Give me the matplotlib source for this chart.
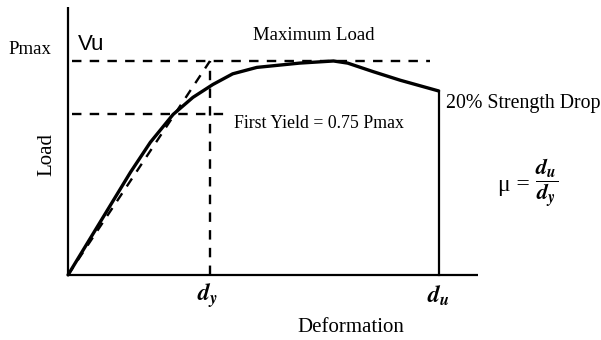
import matplotlib
matplotlib.use("Agg")
import matplotlib.pyplot as plt

# load-deformation curve, deformation in units of dy, load in units of Pmax
deform = [0, 0.44, 0.58, 0.74, 0.88, 1.02, 1.16, 1.33, 1.63, 1.87, 1.97, 2.15, 2.34, 2.61]
load = [0, 0.48, 0.62, 0.75, 0.83, 0.89, 0.94, 0.97, 0.99, 1.0, 0.99, 0.95, 0.91, 0.86]

p_max = 1.0
p_yield = 0.75
d_y = 1.0
d_u = deform[-1]

plt.rcParams['mathtext.fontset'] = 'stix'
serif = 'Liberation Serif'

fig = plt.figure(figsize=(6.01, 3.40), dpi=100)
ax = fig.add_axes([0, 0, 1, 1])
ax.set_xlim(-0.479, 3.754)
ax.set_ylim(-0.304, 1.285)
ax.axis('off')

# axes drawn by hand
ax.plot([0, 0], [0, 1.25], color='black', lw=1.6, solid_capstyle='butt')
ax.plot([0, 2.89], [0, 0], color='black', lw=1.6, solid_capstyle='butt')

dash = dict(color='black', lw=1.7, linestyle=(0, (4, 3.5)))
ax.plot([0.03, 2.55], [p_max, p_max], **dash)
ax.plot([0.03, 1.14], [p_yield, p_yield], **dash)
ax.plot([d_y, d_y], [0, p_max], **dash)
ax.plot([0, d_y], [0, p_max], **dash)

ax.plot(deform, load, color='black', lw=2.4, solid_joinstyle='round', solid_capstyle='round')
ax.plot([d_u, d_u], [0, load[-1]], color='black', lw=1.6)

ax.text(-0.265, 1.055, 'Pmax', family=serif, fontsize=13.5, ha='center', va='center')
ax.text(0.07, 1.075, 'Vu', family='Liberation Sans', fontsize=16, ha='left', va='center')
ax.text(1.73, 1.12, 'Maximum Load', family=serif, fontsize=13.5, ha='center', va='center')
ax.text(1.17, 0.71, 'First Yield = 0.75 Pmax', family=serif, fontsize=12.8, ha='left', va='center')
ax.text(2.66, 0.80, '20% Strength Drop', family=serif, fontsize=14.3, ha='left', va='center')
ax.text(-0.15, 0.565, 'Load', family=serif, fontsize=15, ha='center', va='center', rotation=90)
ax.text(1.99, -0.245, 'Deformation', family=serif, fontsize=15, ha='center', va='center')

ax.text(0.985, -0.095, r'$\mathbfit{d}_{\mathbfit{y}}$', fontsize=17, ha='center', va='center')
ax.text(d_u, -0.10, r'$\mathbfit{d}_{\mathbfit{u}}$', fontsize=17, ha='center', va='center')

# ductility ratio
ax.text(3.14, 0.42, 'μ =', family=serif, fontsize=17, ha='center', va='center')
ax.text(3.37, 0.425, r'$\dfrac{\mathbfit{d}_{\mathbfit{u}}}{\mathbfit{d}_{\mathbfit{y}}}$',
        fontsize=16, ha='center', va='center')

fig.savefig('out.png', dpi=100)
